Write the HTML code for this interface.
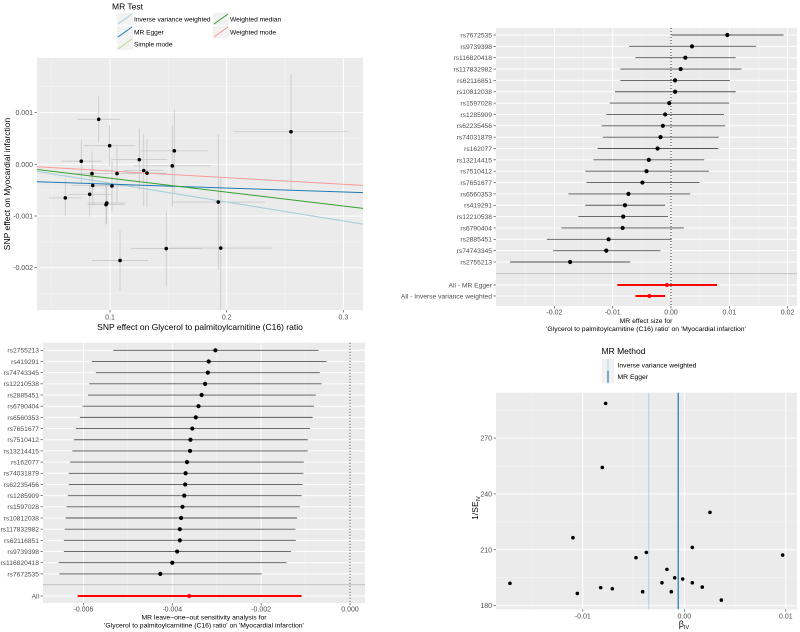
<!DOCTYPE html>
<html><head><meta charset="utf-8"><style>
body{margin:0;background:#fff}
svg{display:block;font-family:"Liberation Sans",sans-serif}
</style></head><body>
<svg id="s" width="800" height="632" viewBox="0 0 800 632" xmlns="http://www.w3.org/2000/svg"></svg>
<script>
// ---------- Panel 1 scatter data ----------
const scX = [0.0903,0.0997,0.0754,0.0846,0.0852,0.0826,0.0617,0.0972,0.0966,0.1017,0.1060,0.1251,0.1289,0.1317,0.1551,0.1534,0.1086,0.1482,0.1949,0.1928,0.2551];
const scY = [0.00087,0.00036,0.00006,-0.00018,-0.00041,-0.00058,-0.00065,-0.00075,-0.00078,-0.00042,-0.00018,0.00009,-0.00012,-0.00017,0.00026,-0.00003,-0.00186,-0.00163,-0.00162,-0.00073,0.00063];
const scXe = [0.018,0.022,0.017,0.013,0.018,0.019,0.014,0.016,0.016,0.018,0.021,0.024,0.017,0.017,0.029,0.033,0.024,0.030,0.044,0.040,0.049];
const scYe = [0.00045,0.0004,0.00042,0.00043,0.0004,0.00043,0.00035,0.00039,0.00039,0.00048,0.00056,0.0006,0.0007,0.00066,0.00081,0.00079,0.00058,0.00072,0.00135,0.0013,0.00112];
const lineNames = ["Simple mode","Inverse variance weighted","MR Egger","Weighted median","Weighted mode"];
const lineSlopes = [-0.00365,-0.00365,-0.000755,-0.00269,-0.00129];
const lineInts = [0,0,-0.000309,0,0];
const scXTicks = [0.1,0.2,0.3];
const scYTicks = [0.001,0,-0.001,-0.002];
const scYTickLabels = ["0.001","0.000","-0.001","-0.002"];

// ---------- Panel 2 forest ----------
const snps = ["rs7672535","rs9739398","rs116820418","rs117832982","rs62116851","rs10812038","rs1597028","rs1285909","rs62235456","rs74031879","rs162077","rs13214415","rs7510412","rs7651677","rs6560353","rs419291","rs12210538","rs6790404","rs2885451","rs74743345","rs2755213"];
const fB  = [0.00966,0.0036,0.00246,0.00166,0.0007,0.0007,-0.0003,-0.001,-0.0014,-0.0018,-0.0023,-0.0038,-0.0042,-0.0049,-0.0073,-0.0079,-0.0082,-0.0083,-0.0107,-0.0111,-0.0173];
const fLo = [0.0001,-0.0072,-0.0061,-0.0087,-0.0087,-0.0096,-0.0105,-0.0111,-0.0119,-0.0117,-0.0126,-0.0133,-0.0147,-0.0145,-0.0176,-0.0147,-0.0159,-0.0188,-0.0213,-0.0202,-0.0276];
const fHi = [0.0193,0.0146,0.0111,0.0121,0.0101,0.0111,0.0100,0.0091,0.0093,0.0082,0.0081,0.0057,0.0065,0.0049,0.0033,-0.001,-0.0005,0.0022,0.0001,-0.0018,-0.007];
const fAllNames = ["All - MR Egger","All - Inverse variance weighted"];
const fAllB = [-0.0007,-0.0037];
const fAllLo = [-0.0092,-0.0061];
const fAllHi = [0.0079,-0.001];
const fTicks = [-0.02,-0.01,0,0.01,0.02];
const fTickLabels = ["-0.02","-0.01","0.00","0.01","0.02"];

// ---------- Panel 3 leave-one-out ----------
const looSnps = ["rs2755213","rs419291","rs74743345","rs12210538","rs2885451","rs6790404","rs6560353","rs7651677","rs7510412","rs13214415","rs162077","rs74031879","rs62235456","rs1285909","rs1597028","rs10812038","rs117832982","rs62116851","rs9739398","rs116820418","rs7672535"];
const looB  = [-0.00303,-0.00318,-0.0032,-0.00326,-0.00334,-0.00341,-0.00347,-0.00355,-0.00359,-0.0036,-0.00367,-0.0037,-0.00371,-0.00373,-0.00377,-0.0038,-0.00383,-0.00383,-0.00389,-0.004,-0.00427];
const looLo = [-0.00533,-0.00581,-0.00572,-0.00587,-0.0059,-0.00602,-0.00608,-0.00617,-0.00621,-0.00625,-0.0063,-0.00633,-0.00633,-0.00635,-0.00638,-0.0064,-0.00642,-0.00644,-0.00644,-0.00656,-0.00654];
const looHi = [-0.00071,-0.00053,-0.00068,-0.00064,-0.00077,-0.00081,-0.00084,-0.0009,-0.00095,-0.00095,-0.00104,-0.00105,-0.00107,-0.00109,-0.00113,-0.00119,-0.00123,-0.00122,-0.00133,-0.00143,-0.00199];
const looAll = [-0.00362,-0.00613,-0.00109];
const looTicks = [-0.006,-0.004,-0.002,0];
const looTickLabels = ["-0.006","-0.004","-0.002","0.000"];

// ---------- Panel 4 funnel ----------
const fuX = [-0.00775,-0.00808,0.00253,-0.01097,0.00079,0.00969,-0.00374,-0.00476,-0.00171,-0.00095,-0.00016,-0.0022,0.00079,-0.01718,-0.00824,-0.00709,0.00177,-0.0041,-0.00128,-0.01054,0.00365];
const fuY = [288.6,254.2,230.1,216.5,211.3,207.2,208.6,205.8,199.5,195.0,194.3,192.3,192.3,192.0,189.7,189.1,190.0,187.5,187.5,186.6,183.0];
const fuLineNames = ["Inverse variance weighted","MR Egger"];
const fuLineX = [-0.0035,-0.0006];
const fuXTicks = [-0.01,0,0.01];
const fuXTickLabels = ["-0.01","0.00","0.01"];
const fuYTicks = [270,240,210,180];

const NS="http://www.w3.org/2000/svg";
const svg=document.getElementById('s');
function mk(tag,attrs,parent){const e=document.createElementNS(NS,tag);for(const k in attrs)e.setAttribute(k,attrs[k]);(parent||svg).appendChild(e);return e;}
function txt(s,attrs,parent){const e=mk('text',attrs,parent);e.textContent=s;return e;}
const BG="#EBEBEB",TXT="#4D4D4D",TK="#333";
const LCOL={"Inverse variance weighted":"#A6CEE3","MR Egger":"#1F78B4","Simple mode":"#B2DF8A","Weighted median":"#33A02C","Weighted mode":"#FB9A99"};

// ===== Panel 1 =====
{
const L=37,R=363,T=58,B=310;
const xs=v=>110+(v-0.1)*1167, ys=v=>164.3-v*51700;
const g=mk('g',{});


let bg=mk('rect',{x:L,y:T,width:R-L,height:B-T,fill:BG},g);


[0.05,0.15,0.25].forEach(v=>{let e=mk('line',{x1:xs(v),x2:xs(v),y1:T,y2:B,stroke:"#F5F5F5","stroke-width":0.5},g);});
[0.0015,0.0005,-0.0005,-0.0015,-0.0025].forEach(v=>{let e=mk('line',{x1:L,x2:R,y1:ys(v),y2:ys(v),stroke:"#F5F5F5","stroke-width":0.5},g);});
scXTicks.forEach(v=>{let e=mk('line',{x1:xs(v),x2:xs(v),y1:T,y2:B,stroke:"#fff","stroke-width":1},g);
 let t=mk('line',{x1:xs(v),x2:xs(v),y1:B,y2:B+2.5,stroke:TK,"stroke-width":0.6},g);
 let l=txt(String(v),{x:xs(v),y:B+9.5,"font-size":7,fill:TXT,"text-anchor":"middle"},g);});
scYTicks.forEach((v,i)=>{let e=mk('line',{x1:L,x2:R,y1:ys(v),y2:ys(v),stroke:"#fff","stroke-width":1},g);
 let t=mk('line',{x1:L-2.5,x2:L,y1:ys(v),y2:ys(v),stroke:TK,"stroke-width":0.6},g);
 let l=txt(scYTickLabels[i],{x:L-4,y:ys(v)+2.5,"font-size":7,fill:TXT,"text-anchor":"end"},g);});
const cp=mk('clipPath',{id:'c1'},g);mk('rect',{x:L,y:T,width:R-L,height:B-T},cp);
const pg=mk('g',{'clip-path':'url(#c1)'},g);
scX.forEach((x,i)=>{
 let h=mk('line',{x1:xs(x-scXe[i]),x2:xs(x+scXe[i]),y1:ys(scY[i]),y2:ys(scY[i]),stroke:"#C8C8C8","stroke-width":0.8},pg);
 let v=mk('line',{x1:xs(x),x2:xs(x),y1:ys(scY[i]-scYe[i]),y2:ys(scY[i]+scYe[i]),stroke:"#C8C8C8","stroke-width":0.8},pg);
});
const x0=0.0372,x1=0.3168;
lineNames.forEach((n,i)=>{let e=mk('line',{x1:xs(x0),x2:xs(x1),y1:ys(lineInts[i]+lineSlopes[i]*x0),y2:ys(lineInts[i]+lineSlopes[i]*x1),stroke:LCOL[n],"stroke-width":1},pg);});
scX.forEach((x,i)=>{let c=mk('circle',{cx:xs(x),cy:ys(scY[i]),r:1.8,fill:"#000"},pg);});
let xt=txt("SNP effect on Glycerol to palmitoylcarnitine (C16) ratio",{x:200,y:330,"font-size":8.5,fill:"#000","text-anchor":"middle"},g);
let yt=txt("SNP effect on Myocardial infarction",{x:0,y:0,"font-size":8.5,fill:"#000","text-anchor":"middle",transform:"translate(10,184) rotate(-90)"},g);
// legend
let lt=txt("MR Test",{x:112,y:9.5,"font-size":8.5,fill:"#000"},g);
const legItems=[["Inverse variance weighted",117,19],["MR Egger",117,32],["Simple mode",117,44],["Weighted median",213,19],["Weighted mode",213,32]];
legItems.forEach(([n,px,py])=>{
 let kb=mk('rect',{x:px,y:py-6,width:16,height:12,fill:"#F2F2F2"},g);
 let kl=mk('line',{x1:px+1,x2:px+15,y1:py+5,y2:py-5,stroke:LCOL[n],"stroke-width":1},g);
 let kt=txt(n,{x:px+17,y:py+2.4,"font-size":6.6,fill:"#000"},g);});
}

// ===== Forest helper =====
function forest(name,L,R,T,B,xs,ticks,labels,minors,rowsY,names,b,lo,hi,sepY,allY,allNames,allB,allLo,allHi){
 const g=mk('g',{});
 
 
 let bg=mk('rect',{x:L,y:T,width:R-L,height:B-T,fill:BG},g);
 minors.forEach(v=>{let e=mk('line',{x1:xs(v),x2:xs(v),y1:T,y2:B,stroke:"#F5F5F5","stroke-width":0.5},g);});
 ticks.forEach((v,i)=>{let e=mk('line',{x1:xs(v),x2:xs(v),y1:T,y2:B,stroke:"#fff","stroke-width":1},g);
  let t=mk('line',{x1:xs(v),x2:xs(v),y1:B,y2:B+2.5,stroke:TK,"stroke-width":0.6},g);
  let l=txt(labels[i],{x:xs(v),y:B+8.5,"font-size":7,fill:TXT,"text-anchor":"middle"},g);});
 const allRows=names.map((n,i)=>[n,rowsY(i)]).concat(allNames.map((n,i)=>[n,allY[i]]));
 allRows.forEach(([n,y])=>{let e=mk('line',{x1:L,x2:R,y1:y,y2:y,stroke:"#fff","stroke-width":1},g);
  let t=mk('line',{x1:L-2.5,x2:L,y1:y,y2:y,stroke:TK,"stroke-width":0.6},g);
  let l=txt(n,{x:L-4,y:y+2.4,"font-size":6.7,fill:TXT,"text-anchor":"end"},g);});
 let sp=mk('line',{x1:L,x2:R,y1:sepY,y2:sepY,stroke:"#BEBEBE","stroke-width":0.8},g);
 let z=mk('line',{x1:xs(0),x2:xs(0),y1:T,y2:B,stroke:"#000","stroke-width":0.8,"stroke-dasharray":"1,2"},g);
 names.forEach((n,i)=>{const y=rowsY(i);
  let e=mk('line',{x1:xs(lo[i]),x2:xs(hi[i]),y1:y,y2:y,stroke:"#555","stroke-width":0.9},g);
  let c=mk('circle',{cx:xs(b[i]),cy:y,r:2.1,fill:"#000"},g);});
 allNames.forEach((n,i)=>{const y=allY[i];
  let e=mk('line',{x1:xs(allLo[i]),x2:xs(allHi[i]),y1:y,y2:y,stroke:"#F00","stroke-width":2},g);
  let c=mk('circle',{cx:xs(allB[i]),cy:y,r:2,fill:"#F00"},g);});
 return g;
}
// Panel 2
{
const xs=v=>671+v*5830;
const g=forest('forest-panel',496,797,28,306,xs,fTicks,fTickLabels,[-0.025,-0.015,-0.005,0.005,0.015],i=>35+i*11.35,snps,fB,fLo,fHi,273.7,[285,296],fAllNames,fAllB,fAllLo,fAllHi);
let t1=txt("MR effect size for",{x:646,y:323,"font-size":6.8,fill:"#000","text-anchor":"middle"},g);
let t2=txt("'Glycerol to palmitoylcarnitine (C16) ratio' on 'Myocardial infarction'",{x:646,y:331,"font-size":6.8,fill:"#000","text-anchor":"middle"},g);
}
// Panel 3
{
const xs=v=>350+v*44430;
const g=forest('leave-one-out-panel',43,365,342.7,603,xs,looTicks,looTickLabels,[-0.005,-0.003,-0.001],i=>350.3+i*11.18,looSnps,looB,looLo,looHi,584.7,[596],["All"],[looAll[0]],[looAll[1]],[looAll[2]]);
let t1=txt("MR leave\u2212one\u2212out sensitivity analysis for",{x:204,y:619.5,"font-size":6.8,fill:"#000","text-anchor":"middle"},g);
let t2=txt("'Glycerol to palmitoylcarnitine (C16) ratio' on 'Myocardial infarction'",{x:204,y:627.5,"font-size":6.8,fill:"#000","text-anchor":"middle"},g);
}
// Panel 4
{
const L=496,R=797,T=392.7,B=609.3;
const xs=v=>684.3+v*10150, ys=v=>605.7-(v-180)*1.863;
const g=mk('g',{});


let bg=mk('rect',{x:L,y:T,width:R-L,height:B-T,fill:BG},g);
[-0.015,-0.005,0.005].forEach(v=>{let e=mk('line',{x1:xs(v),x2:xs(v),y1:T,y2:B,stroke:"#F5F5F5","stroke-width":0.5},g);});
[285,255,225,195].forEach(v=>{let e=mk('line',{x1:L,x2:R,y1:ys(v),y2:ys(v),stroke:"#F5F5F5","stroke-width":0.5},g);});
fuXTicks.forEach((v,i)=>{let e=mk('line',{x1:xs(v),x2:xs(v),y1:T,y2:B,stroke:"#fff","stroke-width":1},g);
 let t=mk('line',{x1:xs(v),x2:xs(v),y1:B,y2:B+2.5,stroke:TK,"stroke-width":0.6},g);
 let l=txt(fuXTickLabels[i],{x:xs(v),y:B+9,"font-size":7,fill:TXT,"text-anchor":"middle"},g);});
fuYTicks.forEach(v=>{let e=mk('line',{x1:L,x2:R,y1:ys(v),y2:ys(v),stroke:"#fff","stroke-width":1},g);
 let t=mk('line',{x1:L-2.5,x2:L,y1:ys(v),y2:ys(v),stroke:TK,"stroke-width":0.6},g);
 let l=txt(String(v),{x:L-4,y:ys(v)+2.5,"font-size":7,fill:TXT,"text-anchor":"end"},g);});
fuLineNames.forEach((n,i)=>{let e=mk('line',{x1:xs(fuLineX[i]),x2:xs(fuLineX[i]),y1:T,y2:B,stroke:LCOL[n],"stroke-width":i?1.2:0.9},g);});
fuX.forEach((x,i)=>{let c=mk('circle',{cx:xs(x),cy:ys(fuY[i]),r:1.8,fill:"#000"},g);});
let xt=mk('text',{x:684,y:627,"font-size":9,fill:"#000","text-anchor":"middle"},g);
xt.innerHTML='\u03B2<tspan font-size="5.5" dy="2">IV</tspan>';


let yt=mk('text',{x:0,y:0,"font-size":8.5,fill:"#000","text-anchor":"middle",transform:"translate(478,508) rotate(-90)"},g);
yt.innerHTML='1/SE<tspan font-size="5.5" dy="2">IV</tspan>';


let lt=txt("MR Method",{x:601.5,y:354,"font-size":8.5,fill:"#000"},g);
[365,376.7].forEach((py,i)=>{
 let kb=mk('rect',{x:602,y:py-6,width:12,height:12,fill:"#F2F2F2"},g);
 let kl=mk('line',{x1:608,x2:608,y1:py-6,y2:py+6,stroke:LCOL[fuLineNames[i]],"stroke-width":i?1.2:0.9},g);
 let kt=txt(fuLineNames[i],{x:617.5,y:py+2.5,"font-size":6.8,fill:"#000"},g);});
}
</script>
</body></html>
